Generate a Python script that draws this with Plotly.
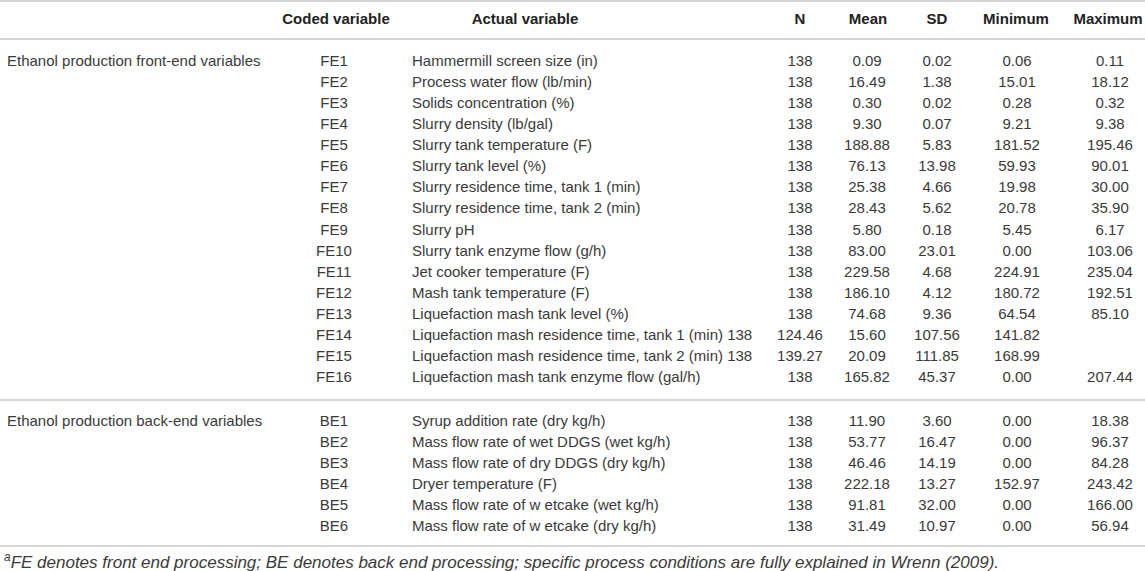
import plotly.graph_objects as go

# table contents
headers = ["Coded variable", "Actual variable", "N", "Mean", "SD", "Minimum", "Maximum"]
groups = ["Ethanol production front-end variables", "Ethanol production back-end variables"]

fe_codes = ["FE%d" % i for i in range(1, 17)]
fe_actual = [
    "Hammermill screen size (in)",
    "Process water flow (lb/min)",
    "Solids concentration (%)",
    "Slurry density (lb/gal)",
    "Slurry tank temperature (F)",
    "Slurry tank level (%)",
    "Slurry residence time, tank 1 (min)",
    "Slurry residence time, tank 2 (min)",
    "Slurry pH",
    "Slurry tank enzyme flow (g/h)",
    "Jet cooker temperature (F)",
    "Mash tank temperature (F)",
    "Liquefaction mash tank level (%)",
    "Liquefaction mash residence time, tank 1 (min) 138",
    "Liquefaction mash residence time, tank 2 (min) 138",
    "Liquefaction mash tank enzyme flow (gal/h)",
]
fe_n = ["138"] * 13 + ["124.46", "139.27", "138"]
fe_mean = ["0.09", "16.49", "0.30", "9.30", "188.88", "76.13", "25.38", "28.43", "5.80",
           "83.00", "229.58", "186.10", "74.68", "15.60", "20.09", "165.82"]
fe_sd = ["0.02", "1.38", "0.02", "0.07", "5.83", "13.98", "4.66", "5.62", "0.18",
         "23.01", "4.68", "4.12", "9.36", "107.56", "111.85", "45.37"]
fe_min = ["0.06", "15.01", "0.28", "9.21", "181.52", "59.93", "19.98", "20.78", "5.45",
          "0.00", "224.91", "180.72", "64.54", "141.82", "168.99", "0.00"]
# the two shifted rows (FE14, FE15) have no maximum in the source table
fe_max = ["0.11", "18.12", "0.32", "9.38", "195.46", "90.01", "30.00", "35.90", "6.17",
          "103.06", "235.04", "192.51", "85.10", None, None, "207.44"]

be_codes = ["BE%d" % i for i in range(1, 7)]
be_actual = [
    "Syrup addition rate (dry kg/h)",
    "Mass flow rate of wet DDGS (wet kg/h)",
    "Mass flow rate of dry DDGS (dry kg/h)",
    "Dryer temperature (F)",
    "Mass flow rate of w etcake (wet kg/h)",
    "Mass flow rate of w etcake (dry kg/h)",
]
be_n = ["138"] * 6
be_mean = ["11.90", "53.77", "46.46", "222.18", "91.81", "31.49"]
be_sd = ["3.60", "16.47", "14.19", "13.27", "32.00", "10.97"]
be_min = ["0.00", "0.00", "0.00", "152.97", "0.00", "0.00"]
be_max = ["18.38", "96.37", "84.28", "243.42", "166.00", "56.94"]

footnote = ("<sup>a</sup>FE denotes front end processing; BE denotes back end processing; "
            "specific process conditions are fully explained in Wrenn (2009).")

W, H = 1145, 571
TXT = "#3a3a3a"
RULE = "#d6d6d6"
FONT = "Liberation Sans, Arial, sans-serif"

# column positions in px (the axes run 0..W and 0..H)
col_x = {"group": 7, "code": 334, "actual": 412, "N": 800, "Mean": 867,
         "SD": 937, "Minimum": 1017, "Maximum": 1110}
head_x = {"Coded variable": 336, "Actual variable": 525, "N": 800, "Mean": 868,
          "SD": 937, "Minimum": 1016, "Maximum": 1108}

step = 21.1
fe_y = [62 + i * step for i in range(len(fe_codes))]
be_y = [422 + i * step for i in range(len(be_codes))]

fig = go.Figure()

def text_col(x, ys, texts, pos="middle center"):
    keep = [(y, t) for y, t in zip(ys, texts) if t]
    fig.add_trace(go.Scatter(
        x=[x] * len(keep), y=[k[0] for k in keep], text=[k[1] for k in keep],
        mode="text", textposition=pos, hoverinfo="skip", showlegend=False,
        textfont=dict(family=FONT, size=15, color=TXT),
    ))

# header row
fig.add_trace(go.Scatter(
    x=[head_x[h] for h in headers], y=[20] * len(headers),
    text=["<b>%s</b>" % h for h in headers], mode="text",
    textposition="middle center", hoverinfo="skip", showlegend=False,
    textfont=dict(family=FONT, size=15, color="#222222"),
))

for ys, grp, codes, actual, n, mean, sd, mn, mx in [
    (fe_y, groups[0], fe_codes, fe_actual, fe_n, fe_mean, fe_sd, fe_min, fe_max),
    (be_y, groups[1], be_codes, be_actual, be_n, be_mean, be_sd, be_min, be_max),
]:
    text_col(col_x["group"], [ys[0]], [grp], "middle right")
    text_col(col_x["code"], ys, codes)
    text_col(col_x["actual"], ys, actual, "middle right")
    text_col(col_x["N"], ys, n)
    text_col(col_x["Mean"], ys, mean)
    text_col(col_x["SD"], ys, sd)
    text_col(col_x["Minimum"], ys, mn)
    text_col(col_x["Maximum"], ys, mx)

# horizontal rules
for yy in [1, 39, 400, 546]:
    fig.add_shape(type="line", xref="paper", x0=0, x1=1, y0=yy, y1=yy,
                  line=dict(color=RULE, width=2))

fig.add_annotation(
    x=2, y=561, xanchor="left", yanchor="middle", showarrow=False,
    text="<i>%s</i>" % footnote,
    font=dict(family=FONT, size=17, color=TXT),
)

fig.update_layout(
    width=W, height=H,
    margin=dict(l=0, r=0, t=0, b=0),
    paper_bgcolor="white", plot_bgcolor="white",
    xaxis=dict(range=[0, W], visible=False, fixedrange=True),
    yaxis=dict(range=[H, 0], visible=False, fixedrange=True),
)

# page body has an 8px default margin; drop it so the figure fills the window
fig.write_html("out.html", config={"displayModeBar": False},
               post_script="document.body.style.margin='0';")
